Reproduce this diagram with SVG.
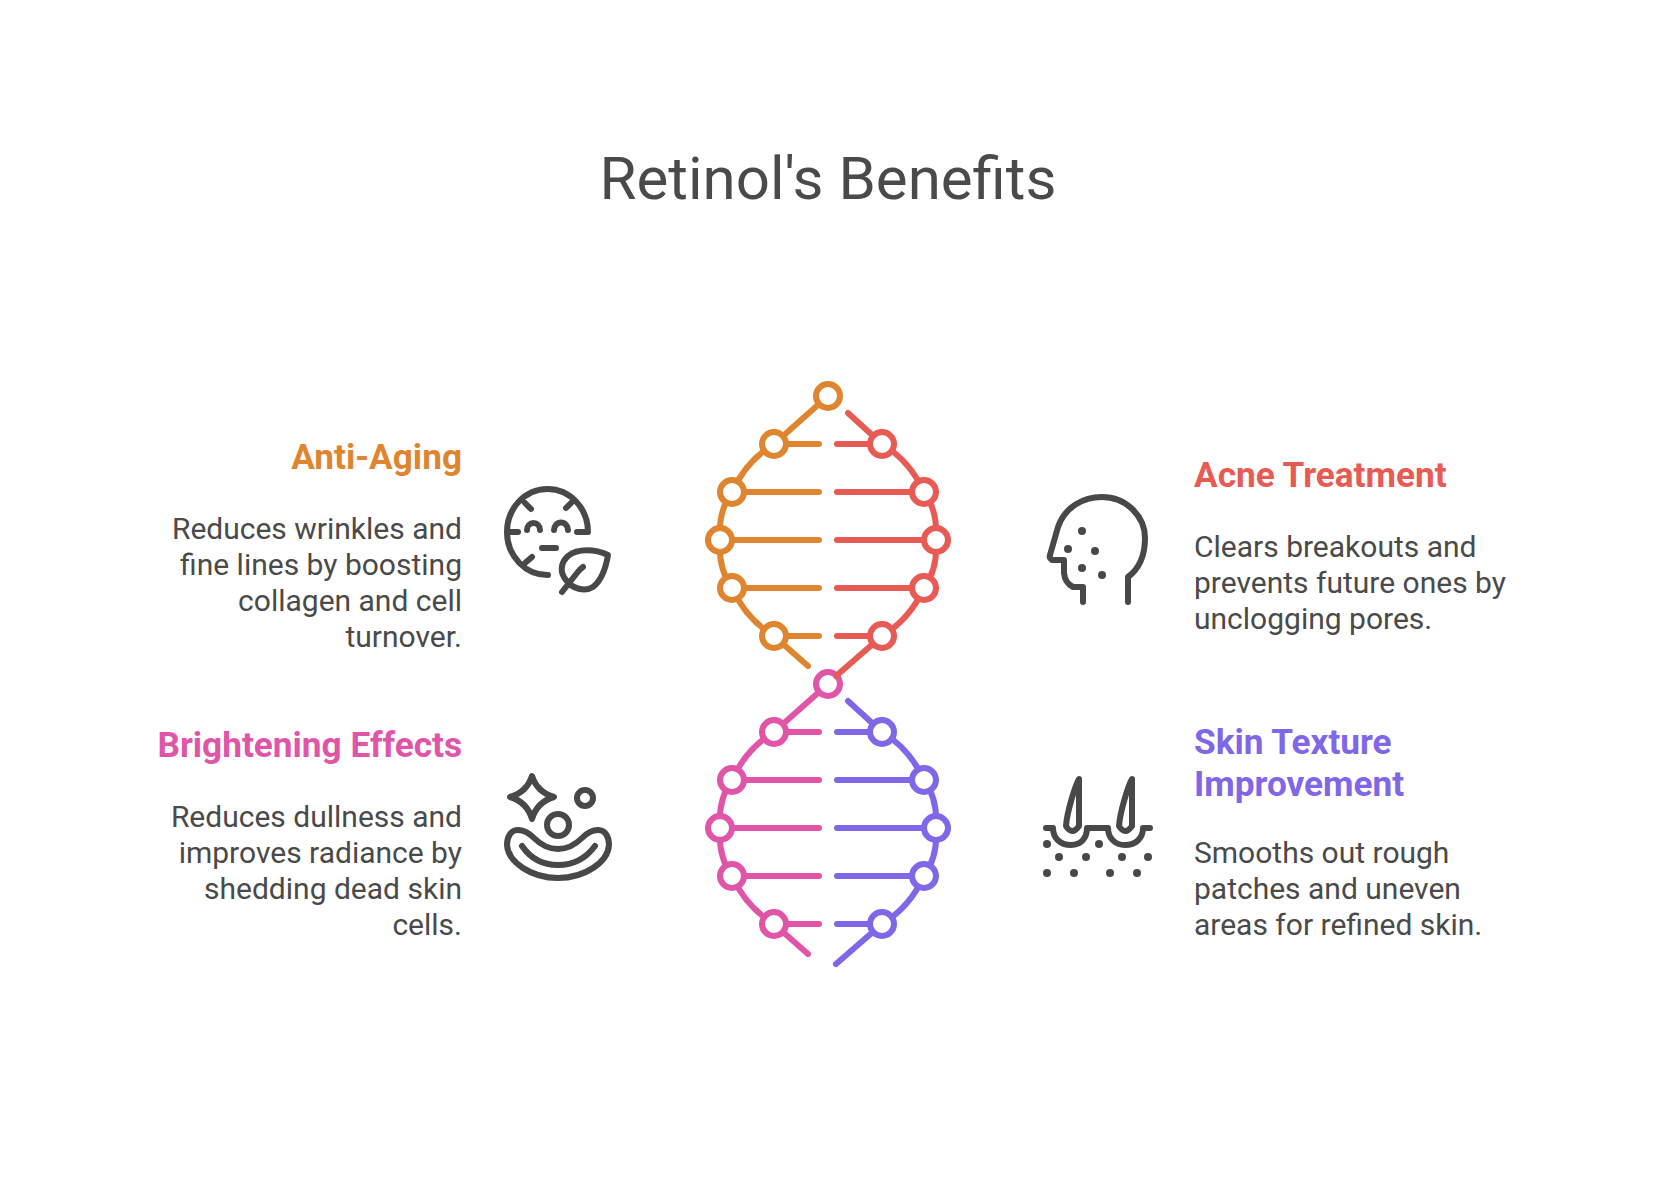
<svg xmlns="http://www.w3.org/2000/svg" width="1656" height="1188" viewBox="0 0 1656 1188">
<style>
text{font-family:Roboto,"Liberation Sans",sans-serif;fill:#4A4A4A}
.t{font-size:60px;text-anchor:middle}
.h{font-size:35.2px;font-weight:700}
.b{font-size:30px}
.r{text-anchor:end}
.s{fill:none;stroke-width:6;stroke-linecap:round;stroke-linejoin:round}
.n{fill:#fff;stroke-width:6}
.o{stroke:#E0852F}.e{stroke:#E85A54}.p{stroke:#E055A8}.v{stroke:#7F67E8}
.i{fill:none;stroke:#484848;stroke-width:6;stroke-linecap:round;stroke-linejoin:round}
.d{fill:#484848}
</style>
<rect width="1656" height="1188" fill="#fff"/>
<text class="t" x="828" y="199">Retinol's Benefits</text>
<g id="connectors">
<g class="s p">
<path d="M828,684L774,732Q746,749 732,780Q718,799 720,828Q718,857 732,876Q746,907 774,924L808,954"/>
<path d="M774,732H819M732,780H819M720,828H819M732,876H819M774,924H819"/>
</g>
<g class="s v">
<path d="M848,701L882,732Q910,749 924,780Q938,799 936,828Q938,857 924,876Q910,907 882,924L836,964"/>
<path d="M837,732H882M837,780H924M837,828H936M837,876H924M837,924H882"/>
</g>
</g>
<g id="node-brightening-strand">
<circle class="n p" cx="828" cy="684" r="12"/>
<circle class="n p" cx="774" cy="732" r="12"/><circle class="n p" cx="732" cy="780" r="12"/><circle class="n p" cx="720" cy="828" r="12"/><circle class="n p" cx="732" cy="876" r="12"/><circle class="n p" cx="774" cy="924" r="12"/>
</g>
<g id="node-texture-strand">
<circle class="n v" cx="882" cy="732" r="12"/><circle class="n v" cx="924" cy="780" r="12"/><circle class="n v" cx="936" cy="828" r="12"/><circle class="n v" cx="924" cy="876" r="12"/><circle class="n v" cx="882" cy="924" r="12"/>
</g>
<g id="connectors-upper">
<g class="s o">
<path d="M828,396L774,444Q746,461 732,492Q718,511 720,540Q718,569 732,588Q746,619 774,636L808,666"/>
<path d="M774,444H819M732,492H819M720,540H819M732,588H819M774,636H819"/>
</g>
<g class="s e">
<path d="M848,413L882,444Q910,461 924,492Q938,511 936,540Q938,569 924,588Q910,619 882,636L836,676"/>
<path d="M837,444H882M837,492H924M837,540H936M837,588H924M837,636H882"/>
</g>
</g>
<g id="node-antiaging-strand">
<circle class="n o" cx="828" cy="396" r="12"/>
<circle class="n o" cx="774" cy="444" r="12"/><circle class="n o" cx="732" cy="492" r="12"/><circle class="n o" cx="720" cy="540" r="12"/><circle class="n o" cx="732" cy="588" r="12"/><circle class="n o" cx="774" cy="636" r="12"/>
</g>
<g id="node-acne-strand">
<circle class="n e" cx="882" cy="444" r="12"/><circle class="n e" cx="924" cy="492" r="12"/><circle class="n e" cx="936" cy="540" r="12"/><circle class="n e" cx="924" cy="588" r="12"/><circle class="n e" cx="882" cy="636" r="12"/>
</g>
<g id="node-antiaging">
<text class="h r" x="462" y="469" style="fill:#E0852F">Anti-Aging</text>
<text class="b r" x="462" y="539">Reduces wrinkles and</text>
<text class="b r" x="462" y="575">fine lines by boosting</text>
<text class="b r" x="462" y="611">collagen and cell</text>
<text class="b r" x="462" y="647">turnover.</text>
<path class="i" d="M588,532A40.5,43 0 1 0 548,575M525,503L531,509M572,502L566,508M508,532H518M577,532H588M525,563L532,557M527,530A6.5,7 0 0 1 540,530M554,530A6.5,7 0 0 1 568,530M542,548H556"/>
<path class="i" d="M608,555C595,549 578,548 568,556C560,563 560,573 566,580C572,589 585,592 593,587C602,580 606,567 608,555ZM562,592L577,573Q580,569 583,567"/>
</g>
<g id="node-acne">
<text class="h" x="1194" y="487" style="fill:#E85A54">Acne Treatment</text>
<text class="b" x="1194" y="557">Clears breakouts and</text>
<text class="b" x="1194" y="593">prevents future ones by</text>
<text class="b" x="1194" y="629">unclogging pores.</text>
<path class="i" d="M1083,602V587H1073Q1065,583 1064,573V560H1052Q1049,558 1050,555L1058,527C1065,507 1083,497 1102,497C1126,497 1145,516 1145,538C1145,555 1140,568 1128,577V602"/>
<circle class="d" cx="1082" cy="531" r="4"/><circle class="d" cx="1068" cy="549" r="4"/><circle class="d" cx="1095" cy="551" r="4"/><circle class="d" cx="1082" cy="568" r="4"/><circle class="d" cx="1102" cy="575" r="4"/>
</g>
<g id="node-brightening">
<text class="h r" x="462" y="757" style="fill:#E055A8">Brightening Effects</text>
<text class="b r" x="462" y="827">Reduces dullness and</text>
<text class="b r" x="462" y="863">improves radiance by</text>
<text class="b r" x="462" y="899">shedding dead skin</text>
<text class="b r" x="462" y="935">cells.</text>
<path class="i" d="M532,776Q537,792 554,797Q537,802 532,819Q527,802 510,797Q527,792 532,776Z"/>
<circle class="i" cx="585" cy="798" r="8"/><circle class="i" cx="558" cy="825" r="11"/>
<path class="i" d="M518,830C525,830 530,834 534,838C541,845 549,849 558,849C567,849 575,845 582,838C586,834 591,830 598,830C606,830 609,838 609,845C608,862 585,878 558,878C531,878 508,862 507,845C507,838 510,830 518,830Z"/>
<path class="i" d="M522,846Q535,865 558,865Q581,865 595,846"/>
</g>
<g id="node-texture">
<text class="h" x="1194" y="754" style="fill:#7F67E8">Skin Texture</text>
<text class="h" x="1194" y="796" style="fill:#7F67E8">Improvement</text>
<text class="b" x="1194" y="863">Smooths out rough</text>
<text class="b" x="1194" y="899">patches and uneven</text>
<text class="b" x="1194" y="935">areas for refined skin.</text>
<path class="i" d="M1046,828H1053C1053,838 1060,845 1071,845C1081,845 1087,838 1087,828H1108C1108,838 1115,845 1125,845C1136,845 1143,838 1143,828H1150"/>
<path class="i" d="M1079,779C1075,786 1067,812 1066,826Q1072,836 1079,826ZM1132,779C1128,786 1120,812 1119,826Q1125,836 1132,826Z"/>
<circle class="d" cx="1047" cy="844" r="4"/><circle class="d" cx="1099" cy="844" r="4"/><circle class="d" cx="1059" cy="857" r="4"/><circle class="d" cx="1086" cy="857" r="4"/><circle class="d" cx="1122" cy="857" r="4"/><circle class="d" cx="1148" cy="857" r="4"/><circle class="d" cx="1047" cy="873" r="4"/><circle class="d" cx="1074" cy="873" r="4"/><circle class="d" cx="1110" cy="873" r="4"/><circle class="d" cx="1137" cy="873" r="4"/>
</g>
</svg>
